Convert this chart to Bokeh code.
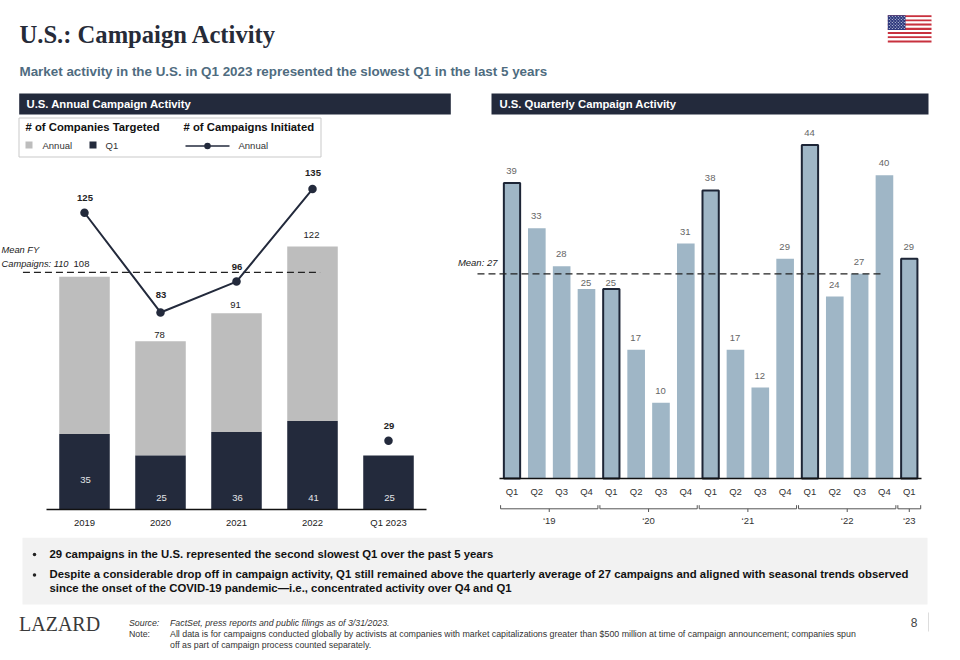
from bokeh.plotting import figure
from bokeh.models import Range1d, LinearAxis, FixedTicker
from bokeh.core.properties import value
from bokeh.embed import file_html
from bokeh.resources import INLINE

# ---- data ----
annual_categories = ["2019", "2020", "2021", "2022", "Q1 2023"]
companies_annual = [108, 78, 91, 122, None]
companies_q1 = [35, 25, 36, 41, 25]
campaigns_annual = [125, 83, 96, 135, 29]
mean_fy_campaigns = 110

quarter_labels = ["Q1", "Q2", "Q3", "Q4"] * 4 + ["Q1"]
quarterly_campaigns = [39, 33, 28, 25, 25, 17, 10, 31, 38, 17, 12, 29, 44, 24, 27, 40, 29]
year_labels = ["\u201819", "\u201820", "\u201821", "\u201822", "\u201823"]
year_spans = [(0, 3), (4, 7), (8, 11), (12, 15), (16, 16)]
mean_quarterly = 27

# ---- layout constants (screen pixels) ----
W, H = 952, 652
NARROW = "Liberation Sans"
SANS = "Liberation Sans"
SERIF = "Liberation Serif"
LBL = "9.5px"
NAVY = "#232a3c"
GREY = "#bdbdbd"
STEEL = "#9fb6c6"

L_X0, L_DX, L_BASE, L_SY, L_SY2 = 84.0, 76.0, 509.0, 2.156, 2.374
R_X0, R_DX, R_BASE, R_SY = 511.5, 24.83, 478.0, 7.58

p = figure(width=W, height=H, output_backend="svg", toolbar_location=None,
           x_range=Range1d(0, W), y_range=Range1d(H, 0),
           min_border=0, outline_line_color=None, background_fill_color="white")
p.axis.visible = False
p.grid.visible = False

p.extra_x_ranges = {
    "lx": Range1d(-L_X0 / L_DX, (W - L_X0) / L_DX),
    "rx": Range1d(-R_X0 / R_DX, (W - R_X0) / R_DX),
}
p.extra_y_ranges = {
    "ly": Range1d(-(H - L_BASE) / L_SY, L_BASE / L_SY),
    "ly2": Range1d(-(H - L_BASE) / L_SY2, L_BASE / L_SY2),
    "ry": Range1d(-(H - R_BASE) / R_SY, R_BASE / R_SY),
}


def txt(x, y, s, font=NARROW, size=9.5, color="#222222", align="left", style="normal", **kw):
    p.text(x=[x], y=[y], text=[s], text_font=value(font), text_font_size=f"{size}px",
           text_color=color, text_align=align, text_baseline="middle",
           text_font_style=style, **kw)


# ---- header ----
txt(19, 34, "U.S.: Campaign Activity", SERIF, 24.6, "#262b38", style="bold")
txt(19, 71, "Market activity in the U.S. in Q1 2023 represented the slowest Q1 in the last 5 years",
    SANS, 13.4, "#4f6c80", style="bold")

# flag
fx0, fx1, fy0, fy1 = 887.3, 931.0, 14.7, 42.0
sh = (fy1 - fy0) / 13
for i in range(13):
    p.quad(left=fx0, right=fx1, top=fy0 + i * sh, bottom=fy0 + (i + 1) * sh,
           fill_color="#c8313e" if i % 2 == 0 else "#ffffff", line_color=None)
p.quad(left=fx0, right=905.0, top=fy0, bottom=fy0 + 7 * sh, fill_color="#2f3a7e", line_color=None)
sx, sy = [], []
for r in range(9):
    n = 6 if r % 2 == 0 else 5
    for c in range(n):
        sx.append(fx0 + 1.5 + c * 3.0 + (0 if r % 2 == 0 else 1.5))
        sy.append(fy0 + 1.3 + r * 1.5)
p.scatter(sx, sy, size=1.1, marker="circle", fill_color="#dfe3f2", line_color=None)

# section bars
p.quad(left=18.7, right=450.3, top=93, bottom=114, fill_color=NAVY, line_color=None)
p.quad(left=491, right=928, top=93, bottom=114, fill_color=NAVY, line_color=None)
txt(26, 103.3, "U.S. Annual Campaign Activity", SANS, 11.3, "white", style="bold")
txt(499, 103.3, "U.S. Quarterly Campaign Activity", SANS, 11.3, "white", style="bold")

# legend box
p.quad(left=18.5, right=320.5, top=117.5, bottom=156.5, fill_color="white",
       line_color="#c9c9c9", line_width=1)
txt(25, 126.3, "# of Companies Targeted", SANS, 11.3, "#111111", style="bold")
txt(183, 126.3, "# of Campaigns Initiated", SANS, 11.3, "#111111", style="bold")
p.quad(left=25, right=32, top=141, bottom=148, fill_color=GREY, line_color=None)
txt(42, 144.5, "Annual", color="#333333")
p.quad(left=89, right=96, top=141, bottom=148, fill_color=NAVY, line_color=None)
txt(105, 144.5, "Q1", color="#333333")
p.line([185, 229], [145.5, 145.5], line_color=NAVY, line_width=1.5)
p.scatter([207], [145.5], size=6.5, fill_color=NAVY, line_color=None)
txt(238, 144.5, "Annual", color="#333333")

# ---- left chart ----
lx = list(range(len(annual_categories)))
BW = 0.665
la = [i for i, v in zip(lx, companies_annual) if v is not None]
lv = [v for v in companies_annual if v is not None]
lq = [companies_q1[i] for i in la]
p.vbar(x=la, bottom=lq, top=lv, width=BW, fill_color=GREY, line_color=None,
       x_range_name="lx", y_range_name="ly")
p.vbar(x=lx, bottom=0, top=companies_q1, width=BW, fill_color=NAVY, line_color=None,
       x_range_name="lx", y_range_name="ly")

# annual bar total labels (each nudged as in the source slide)
p.text(x=la, y=lv, text=[str(v) for v in lv], text_font=value(NARROW), text_font_size=LBL,
       text_color="#222222", text_align="center", text_baseline="middle",
       y_offset=[-13, -6, -8, -11], x_offset=[-3, -1, -1, -1],
       x_range_name="lx", y_range_name="ly")
# Q1 labels sit near the base, except the 2019 one
q1_label_heights = [13.5, 5.5, 5.5, 5.5, 5.5]
p.text(x=lx, y=q1_label_heights, text=[str(v) for v in companies_q1], text_font=value(NARROW),
       text_font_size=LBL, text_color="#e4e6ea", text_align="center", text_baseline="middle",
       x_offset=1, x_range_name="lx", y_range_name="ly")

# mean line
p.segment(x0=[-0.81], x1=[3.1], y0=[mean_fy_campaigns], y1=[mean_fy_campaigns], line_color="#222222",
          line_width=1.1, line_dash="7 4", x_range_name="lx", y_range_name="ly")
txt(1, 249, "Mean FY", size=9.3, style="italic")
txt(1, 263, f"Campaigns: {mean_fy_campaigns}", size=9.3, style="italic")

# campaigns line
p.line(x=lx[:4], y=campaigns_annual[:4], line_color=NAVY, line_width=2,
       x_range_name="lx", y_range_name="ly2")
p.scatter(x=lx, y=campaigns_annual, size=8.5, fill_color=NAVY, line_color=None,
          x_range_name="lx", y_range_name="ly2")
p.text(x=lx, y=campaigns_annual, text=[str(v) for v in campaigns_annual], text_font=value(NARROW),
       text_font_size=LBL, text_color="#222222", text_align="center", text_baseline="middle",
       text_font_style="bold", y_offset=[-15, -17, -15, -16, -15], x_offset=0.5,
       x_range_name="lx", y_range_name="ly2")

l_axis = LinearAxis(x_range_name="lx", y_range_name="ly", fixed_location=0,
                    ticker=FixedTicker(ticks=lx), bounds=(-0.5, 4.5),
                    major_label_overrides={i: c for i, c in enumerate(annual_categories)},
                    axis_line_color="#111111", axis_line_width=1.5,
                    major_tick_line_color=None, minor_tick_line_color=None,
                    major_tick_out=0, major_tick_in=0,
                    major_label_text_font=NARROW, major_label_text_font_size=LBL,
                    major_label_text_color="#222222", major_label_standoff=7)
p.add_layout(l_axis, "below")

# ---- right chart ----
rx = list(range(len(quarterly_campaigns)))
q1_idx = [i for i in rx if quarter_labels[i] == "Q1"]
other_idx = [i for i in rx if quarter_labels[i] != "Q1"]
p.vbar(x=other_idx, bottom=0, top=[quarterly_campaigns[i] for i in other_idx], width=0.71,
       fill_color=STEEL, line_color=None, x_range_name="rx", y_range_name="ry")
p.vbar(x=q1_idx, bottom=0, top=[quarterly_campaigns[i] for i in q1_idx], width=0.656,
       fill_color=STEEL, line_color="#1d2536", line_width=2, x_range_name="rx", y_range_name="ry")
# the two 25 labels sit just under the mean line, closer to their bars
r_label_offsets = [-6.5 if i in (3, 4) else -12 for i in rx]
p.text(x=rx, y=quarterly_campaigns, text=[str(v) for v in quarterly_campaigns],
       text_font=value(NARROW), text_font_size=LBL, text_color="#666666", text_align="center",
       text_baseline="middle", y_offset=r_label_offsets, x_offset=-0.5,
       x_range_name="rx", y_range_name="ry")

p.segment(x0=[-1.39], x1=[14.88], y0=[mean_quarterly], y1=[mean_quarterly], line_color="#222222",
          line_width=1.1, line_dash="7 4", x_range_name="rx", y_range_name="ry")
txt(497, 262, f"Mean: {mean_quarterly}", style="italic", align="right")

r_axis = LinearAxis(x_range_name="rx", y_range_name="ry", fixed_location=0,
                    ticker=FixedTicker(ticks=rx), bounds=(-0.5, 16.5),
                    major_label_overrides={i: c for i, c in enumerate(quarter_labels)},
                    axis_line_color="#111111", axis_line_width=1.5,
                    major_tick_line_color=None, minor_tick_line_color=None,
                    major_tick_out=0, major_tick_in=0,
                    major_label_text_font=NARROW, major_label_text_font_size=LBL,
                    major_label_text_color="#333333", major_label_standoff=7)
p.add_layout(r_axis, "below")

# year brackets
by, bup, bdn, ly = -(508.3 - R_BASE) / R_SY, -(504.7 - R_BASE) / R_SY, -(511.5 - R_BASE) / R_SY, -(520 - R_BASE) / R_SY
for label, (a, b) in zip(year_labels, year_spans):
    x0, x1, xc = a - 0.46, b + 0.46, (a + b) / 2
    p.multi_line(xs=[[x0, x0, x1, x1], [xc, xc]], ys=[[bup, by, by, bup], [by, bdn]],
                 line_color="#555555", line_width=1, x_range_name="rx", y_range_name="ry")
    p.text(x=[xc], y=[ly], text=[label], text_font=value(NARROW), text_font_size=LBL,
           text_color="#333333", text_align="center", text_baseline="middle",
           x_range_name="rx", y_range_name="ry")

# ---- commentary panel ----
p.quad(left=22, right=927, top=537.3, bottom=604, fill_color="#f2f2f2", line_color=None)
p.scatter([34, 34], [554, 574.5], size=3.5, fill_color="#222222", line_color=None)
txt(49, 553.3, "29 campaigns in the U.S. represented the second slowest Q1 over the past 5 years",
    SANS, 11.35, "#111111", style="bold")
txt(49, 573.6, "Despite a considerable drop off in campaign activity, Q1 still remained above the quarterly average of 27 campaigns and aligned with seasonal trends observed",
    SANS, 11.35, "#111111", style="bold")
txt(49, 587.6, "since the onset of the COVID-19 pandemic\u2014i.e., concentrated activity over Q4 and Q1",
    SANS, 11.35, "#111111", style="bold")

# ---- footer ----
txt(18.5, 623, "LAZARD", SERIF, 20, "#3a3a3a")
txt(128.5, 622, "Source:", SANS, 8.8, "#333333", style="italic")
txt(128.5, 633, "Note:", SANS, 8.8, "#333333")
txt(169.5, 622, "FactSet, press reports and public filings as of 3/31/2023.", SANS, 8.8, "#333333", style="italic")
txt(169.5, 633, "All data is for campaigns conducted globally by activists at companies with market capitalizations greater than $500 million at time of campaign announcement; companies spun",
    SANS, 8.82, "#333333")
txt(169.5, 644, "off as part of campaign process counted separately.", SANS, 8.8, "#333333")
txt(917, 622, "8", SANS, 12, "#444444", align="right")
p.line([928, 928], [612, 631], line_color="#dddddd", line_width=1)

open("out.html", "w").write(file_html(p, INLINE))
